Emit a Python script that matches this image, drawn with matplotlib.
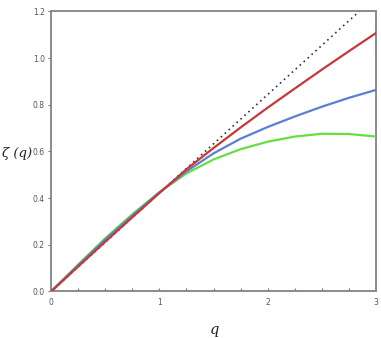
import matplotlib
matplotlib.use("Agg")
import matplotlib.pyplot as plt
from matplotlib.ticker import MultipleLocator

q = [0, 0.25, 0.5, 0.75, 1.0, 1.25, 1.5, 1.75, 2.0, 2.25, 2.5, 2.75, 3.0]
zeta_red = [0, 0.107, 0.213, 0.318, 0.422, 0.524, 0.615, 0.703, 0.788, 0.870, 0.951, 1.030, 1.108]
zeta_blue = [0, 0.112, 0.222, 0.325, 0.424, 0.515, 0.592, 0.655, 0.705, 0.750, 0.792, 0.830, 0.864]
zeta_green = [0, 0.115, 0.228, 0.331, 0.426, 0.506, 0.566, 0.610, 0.642, 0.664, 0.676, 0.675, 0.664]
q_ref = [0, 3.0]
zeta_ref = [0, 1.266]

xticks = [0, 1, 2, 3]
yticks = [0.0, 0.2, 0.4, 0.6, 0.8, 1.0, 1.2]

fig = plt.figure(figsize=(3.81, 3.38), dpi=100)
ax = fig.add_axes([0.134, 0.1376, 0.853, 0.8284])

ax.plot(q_ref, zeta_ref, linestyle=(0, (1, 2.2)), color="#333333", lw=1.2, zorder=2)
ax.plot(q, zeta_green, color="#66dd44", lw=1.6, zorder=3)
ax.plot(q, zeta_blue, color="#5a7fd0", lw=1.6, zorder=4)
ax.plot(q, zeta_red, color="#c83838", lw=1.6, zorder=5)

ax.set_xlim(0, 3)
ax.set_ylim(0, 1.2)
ax.set_xticks(xticks)
ax.set_xticklabels([str(t) for t in xticks])
ax.set_yticks(yticks)
ax.set_yticklabels([f"{t:.1f}" for t in yticks])
ax.xaxis.set_minor_locator(MultipleLocator(0.25))

for s in ax.spines.values():
    s.set_color("#8a8a8a")
    s.set_linewidth(1.4)

ax.tick_params(axis="x", which="both", direction="in", length=2.5, width=0.8,
               color="#777777", labelsize=5.5, labelcolor="#555555", pad=5)
ax.tick_params(axis="y", which="both", direction="out", length=2.5, width=0.8,
               color="#777777", labelsize=5.5, labelcolor="#555555", pad=2)

fig.text(0.5625, 0.025, "q", family="DejaVu Serif", style="italic",
         fontsize=10.5, ha="center", va="center", color="#222222")
fig.text(0.005, 0.545, "ζ (q)", family="DejaVu Serif", style="italic",
         fontsize=9.5, ha="left", va="center", color="#222222")

fig.savefig("out.png", dpi=100)
